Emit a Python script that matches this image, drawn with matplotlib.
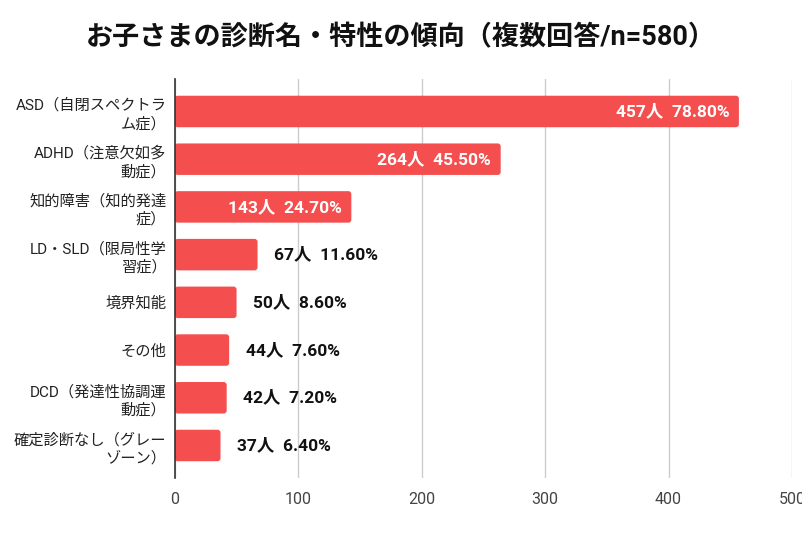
import matplotlib
matplotlib.use("Agg")
import matplotlib.pyplot as plt
from matplotlib.patches import FancyBboxPatch

plt.rcParams['font.family'] = ['Roboto', 'Noto Sans CJK JP', 'DejaVu Sans']

# data
categories = [
    "ASD（自閉スペクトラ\nム症）",
    "ADHD（注意欠如多\n動症）",
    "知的障害（知的発達\n症）",
    "LD・SLD（限局性学\n習症）",
    "境界知能",
    "その他",
    "DCD（発達性協調運\n動症）",
    "確定診断なし（グレー\nゾーン）",
]
counts = [457, 264, 143, 67, 50, 44, 42, 37]
percents = [78.80, 45.50, 24.70, 11.60, 8.60, 7.60, 7.20, 6.40]
xticks = [0, 100, 200, 300, 400, 500]

bar_color = "#f44e4e"

fig = plt.figure(figsize=(8.02, 5.34), dpi=100)
ax = fig.add_axes([0.218, 0.105, 0.7695, 0.747])

ypos = list(range(len(categories)))
bars = ax.barh(ypos, counts, height=0.66, color=bar_color)

# rounded bars
for b in bars:
    x, y = b.get_x(), b.get_y()
    w, h = b.get_width(), b.get_height()
    b.set_visible(False)
    ax.add_patch(FancyBboxPatch((x, y), w, h,
                                boxstyle="round,pad=0,rounding_size=2.4",
                                mutation_aspect=0.026,
                                facecolor=bar_color, edgecolor="none", zorder=2))

ax.set_xlim(0, 500)
ax.set_ylim(len(categories) - 0.32, -0.68)
ax.set_xticks(xticks)
ax.set_xticklabels([str(t) for t in xticks], fontsize=11.5, color="#444444")
ax.set_yticks(ypos)
ax.set_yticklabels(categories, fontsize=11, color="#222222", linespacing=1.35)
ax.tick_params(axis='x', length=0, pad=10)
ax.tick_params(axis='y', length=0, pad=6)

ax.grid(axis='x', color="#cccccc", linewidth=1)
ax.set_axisbelow(True)
for s in ["top", "right", "bottom"]:
    ax.spines[s].set_visible(False)
ax.spines["left"].set_color("#333333")
ax.spines["left"].set_linewidth(1.2)
ax.spines["left"].set_zorder(3)

for i, (c, p) in enumerate(zip(counts, percents)):
    label = f"{c}人  {p:.2f}%"
    if c > 100:
        ax.annotate(label, (c, i), xytext=(-7, 0), textcoords="offset points",
                    ha="right", va="center", color="white",
                    fontsize=12.5, fontweight="bold", zorder=4)
    else:
        ax.annotate(label, (c, i), xytext=(12, 0), textcoords="offset points",
                    ha="left", va="center", color="#111111",
                    fontsize=12.5, fontweight="bold", zorder=4)

fig.suptitle("お子さまの診断名・特性の傾向（複数回答/n=580）",
             x=0.5, y=0.955, fontsize=19.5, fontweight="bold", color="#111111")

fig.savefig("out.png", dpi=100)
